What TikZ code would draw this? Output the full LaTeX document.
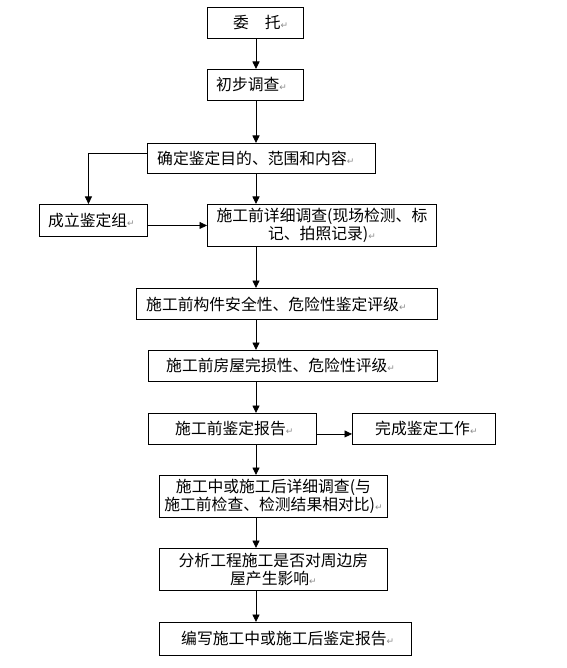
\documentclass[tikz,border=0pt]{standalone}
\usepackage{fontspec}
\newfontfamily\cjk{Noto Sans CJK SC}
\newfontfamily\djv{DejaVu Sans}
\usetikzlibrary{arrows.meta}
\newcommand\pmark{{\color{black!45}\djv\fontsize{9}{9}\selectfont ↵}}
\begin{document}
\begin{tikzpicture}[x=1pt,y=-1pt,
  box/.style={draw,line width=0.9pt,rectangle,inner sep=0pt,anchor=north west},
  txt/.style={inner sep=0pt,anchor=west,font=\cjk\fontsize{15.8}{17.5}\selectfont},
  ctxt/.style={font=\cjk\fontsize{15.8}{17.5}\selectfont,align=center},
  arr/.style={line width=0.9pt,-{Triangle[length=7.5pt,width=7pt]}}]
\useasboundingbox (0,0) rectangle (566,668);
\coordinate (axis) at (256,0);
% boxes
\node[box,minimum width=96pt,minimum height=31pt] (wt) at (207,7) {};
\node[box,minimum width=96pt,minimum height=31pt] (cb) at (207,69) {};
\node[box,minimum width=228pt,minimum height=30pt] (qd) at (147,143) {};
\node[box,minimum width=108pt,minimum height=32pt] (cl) at (39,204) {};
\node[box,minimum width=229pt,minimum height=42pt,ctxt] (xx) at (207,204) {施工前详细调查(现场检测、标\\记、拍照记录)\pmark};
\node[box,minimum width=301pt,minimum height=31pt] (gj) at (136,288) {};
\node[box,minimum width=289pt,minimum height=31pt] (fw) at (148,350) {};
\node[box,minimum width=168pt,minimum height=31pt] (bg) at (148,413) {};
\node[box,minimum width=143pt,minimum height=31pt] (wc) at (352,413) {};
\node[box,minimum width=228pt,minimum height=42pt,ctxt] (sz) at (159,475) {施工中或施工后详细调查(与\\施工前检查、检测结果相对比)\pmark};
\node[box,minimum width=228pt,minimum height=42pt,ctxt] (fx) at (159,548) {分析工程施工是否对周边房\\屋产生影响\pmark};
\node[box,minimum width=252pt,minimum height=33pt] (bx) at (159,622) {};
% texts
\node[txt] (twt) at ([xshift=26pt]wt.west) {委　托\pmark};
\node[txt] (tcb) at ([xshift=9pt]cb.west) {初步调查\pmark};
\node[txt] (tqd) at ([xshift=10pt]qd.west) {确定鉴定目的、范围和内容\pmark};
\node[txt] (tcl) at ([xshift=9pt]cl.west) {成立鉴定组\pmark};
\node[txt] (tgj) at ([xshift=10pt]gj.west) {施工前构件安全性、危险性鉴定评级\pmark};
\node[txt] (tfw) at ([xshift=18pt]fw.west) {施工前房屋完损性、危险性评级\pmark};
\node[txt] (tbg) at ([xshift=27pt]bg.west) {施工前鉴定报告\pmark};
\node[txt] (twc) at ([xshift=23pt]wc.west) {完成鉴定工作\pmark};
\node[txt] (tbx) at ([xshift=22pt]bx.west) {编写施工中或施工后鉴定报告\pmark};
% connectors
\draw[arr] (wt.south -| axis) -- (cb.north -| axis);
\draw[arr] (cb.south -| axis) -- (qd.north -| axis);
\draw[arr] (qd.south -| axis) -- (xx.north -| axis);
\draw[arr] ([yshift=5pt]qd.west) -| ([xshift=-5pt]cl.north);
\draw[arr] (cl.east |- xx.west) -- (xx.west);
\draw[arr] (xx.south -| axis) -- (gj.north -| axis);
\draw[arr] (gj.south -| axis) -- (fw.north -| axis);
\draw[arr] (fw.south -| axis) -- (bg.north -| axis);
\draw[arr] ([yshift=-5pt]bg.east) -- ([yshift=-5pt]wc.west);
\draw[arr] (bg.south -| axis) -- (sz.north -| axis);
\draw[arr] (sz.south -| axis) -- (fx.north -| axis);
\draw[arr] (fx.south -| axis) -- (bx.north -| axis);
\end{tikzpicture}
\end{document}
